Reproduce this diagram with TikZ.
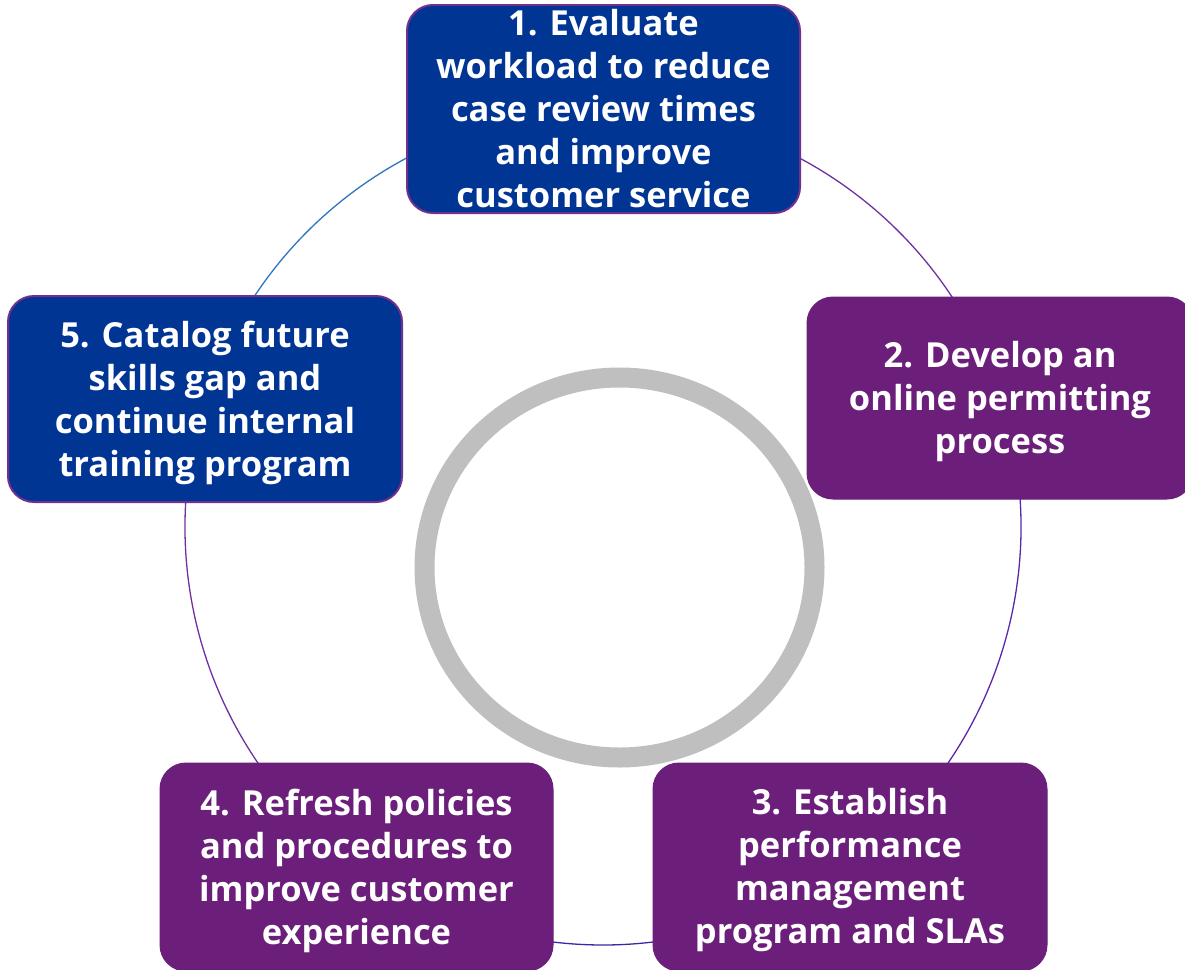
\documentclass[tikz,border=0pt]{standalone}
\usepackage{fontspec}
\setmainfont{Open Sans}
\definecolor{boxblue}{RGB}{0,53,148}
\definecolor{boxpurple}{RGB}{108,31,122}
\definecolor{edgepurple}{RGB}{112,48,140}
\definecolor{arcblue}{RGB}{46,117,190}
\definecolor{arcpurple}{RGB}{112,48,160}
\definecolor{arcviolet}{RGB}{90,40,168}
\definecolor{arcindigo}{RGB}{58,40,168}
\definecolor{ringgray}{RGB}{191,191,191}
\tikzset{
  stepbox/.style={rectangle, rounded corners=26pt, inner sep=0pt},
  steptext/.style={inner sep=0pt, align=center,
    text=white, font=\bfseries\fontsize{34.5}{43}\selectfont},
  bluebox/.style={stepbox, fill=boxblue, draw=edgepurple, line width=2pt},
  purplebox/.style={stepbox, fill=boxpurple, draw=boxpurple, line width=1pt},
  cyc/.style={line width=1.3pt}
}
\begin{document}
\begin{tikzpicture}[x=1pt,y=1pt]
\useasboundingbox (0,0) rectangle (1185,-969);
\clip (0,0) rectangle (1185,-969);
\coordinate (c) at (603,-527);
\coordinate (r) at (619.5,-567.5);
% cycle arcs
\draw[cyc, arcblue]   ([shift={(162:418)}]c) arc[start angle=162, end angle=90, radius=418];
\draw[cyc, arcpurple] ([shift={(90:418)}]c) arc[start angle=90, end angle=18, radius=418];
\draw[cyc, arcviolet] ([shift={(18:418)}]c) arc[start angle=18, end angle=-54, radius=418];
\draw[cyc, arcindigo] ([shift={(-54:418)}]c) arc[start angle=-54, end angle=-126, radius=418];
\draw[cyc, arcpurple] ([shift={(-126:418)}]c) arc[start angle=-126, end angle=-198, radius=418];
% inner ring
\draw[ringgray, line width=20pt] (r) ellipse[x radius=195, y radius=190];
% boxes
\node[bluebox, minimum width=393pt, minimum height=208pt] (s1) at (603.5,-109) {};
\node[purplebox, minimum width=386pt, minimum height=202pt] (s2) at (1000,-398) {};
\node[purplebox, minimum width=394pt, minimum height=208pt] (s3) at (850,-867) {};
\node[purplebox, minimum width=393pt, minimum height=208pt] (s4) at (356.5,-867) {};
\node[bluebox, minimum width=394pt, minimum height=206pt] (s5) at (205,-399) {};
% texts
\node[steptext] (t1) at (s1.center)
  {1. Evaluate\\workload to reduce\\case review times\\and improve\\customer service};
\node[steptext] (t2) at ([yshift=-4pt]s2.center)
  {2. Develop an\\online permitting\\process};
\node[steptext] (t3) at ([yshift=-3.5pt]s3.center)
  {3. Establish\\performance\\management\\program and SLAs};
\node[steptext] (t4) at ([yshift=-3.5pt]s4.center)
  {4. Refresh policies\\and procedures to\\improve customer\\experience};
\node[steptext] (t5) at ([yshift=-4pt]s5.center)
  {5. Catalog future\\skills gap and\\continue internal\\training program};
\end{tikzpicture}
\end{document}
